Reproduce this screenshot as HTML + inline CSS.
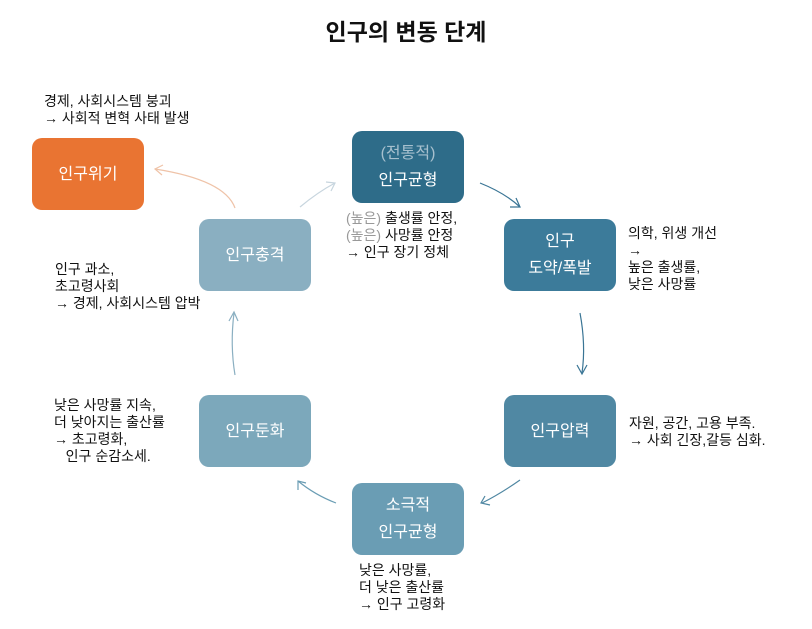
<!DOCTYPE html>
<html><head><meta charset="utf-8"><style>
body{margin:0;width:812px;height:629px;background:#fff;position:relative;font-family:"Liberation Sans","Noto Sans CJK KR",sans-serif;overflow:hidden}
.b{position:absolute;width:112px;height:72px;border-radius:10px;color:#fff;font-size:16px;display:flex;flex-direction:column;align-items:center;justify-content:center;line-height:27px;text-align:center}
.t{position:absolute;font-size:14px;line-height:17px;color:#111;white-space:nowrap}
.g{color:#999}
</style></head><body>
<div style="position:absolute;left:0;width:812px;top:13px;text-align:center;font-size:23px;font-weight:bold;color:#111">인구의 변동 단계</div>

<div class="b" style="left:32px;top:138px;background:#e97432">인구위기</div>
<div class="b" style="left:352px;top:131px;background:#2e6c89"><span style="color:#a7c0ce">(전통적)</span><span>인구균형</span></div>
<div class="b" style="left:199px;top:219px;background:#8aafc1">인구충격</div>
<div class="b" style="left:504px;top:219px;background:#3c7b9a"><span>인구</span><span>도약/폭발</span></div>
<div class="b" style="left:504px;top:395px;background:#5088a3">인구압력</div>
<div class="b" style="left:352px;top:483px;background:#6a9db4"><span>소극적</span><span>인구균형</span></div>
<div class="b" style="left:199px;top:395px;background:#7ca8bb">인구둔화</div>

<div class="t" style="left:44px;top:93px">경제, 사회시스템 붕괴<br>→ 사회적 변혁 사태 발생</div>
<div class="t" style="left:346px;top:210px"><span class="g">(높은)</span> 출생률 안정,<br><span class="g">(높은)</span> 사망률 안정<br>→ 인구 장기 정체</div>
<div class="t" style="left:55px;top:261px">인구 과소,<br>초고령사회<br>→ 경제, 사회시스템 압박</div>
<div class="t" style="left:628px;top:225px">의학, 위생 개선<br>→<br>높은 출생률,<br>낮은 사망률</div>
<div class="t" style="left:629px;top:415px">자원, 공간, 고용 부족.<br>→ 사회 긴장,갈등 심화.</div>
<div class="t" style="left:54px;top:397px">낮은 사망률 지속,<br>더 낮아지는 출산률<br>→ 초고령화,<br>&nbsp;&nbsp;&nbsp;인구 순감소세.</div>
<div class="t" style="left:359px;top:562px">낮은 사망률,<br>더 낮은 출산률<br>→ 인구 고령화</div>

<svg width="812" height="629" style="position:absolute;left:0;top:0" fill="none" stroke-width="1.2">
<g stroke="#3a7595"><path d="M480 183 Q505 193 520 207"/><path d="M510 207 L520 207 L516 198"/></g>
<g stroke="#3a7595"><path d="M580 313 Q586 345 582 373"/><path d="M577 365 L582 374 L587 365"/></g>
<g stroke="#4f87a2"><path d="M520 480 Q500 494 482 503"/><path d="M485 496 L481 503 L490 505"/></g>
<g stroke="#6a9db4"><path d="M336 503 Q315 495 298 481"/><path d="M298 490 L298 481 L306 483"/></g>
<g stroke="#8aafc1"><path d="M235 375 Q230 345 234 313"/><path d="M229 321 L234 312 L238 321"/></g>
<g stroke="#c7d5de"><path d="M300 207 Q318 192 335 183"/><path d="M326 182 L335 183 L331 191"/></g>
<g stroke="#efc3a8"><path d="M235 208 Q225 180 155 169"/><path d="M163 165 L155 169 L162 175"/></g>
</svg>
</body></html>
